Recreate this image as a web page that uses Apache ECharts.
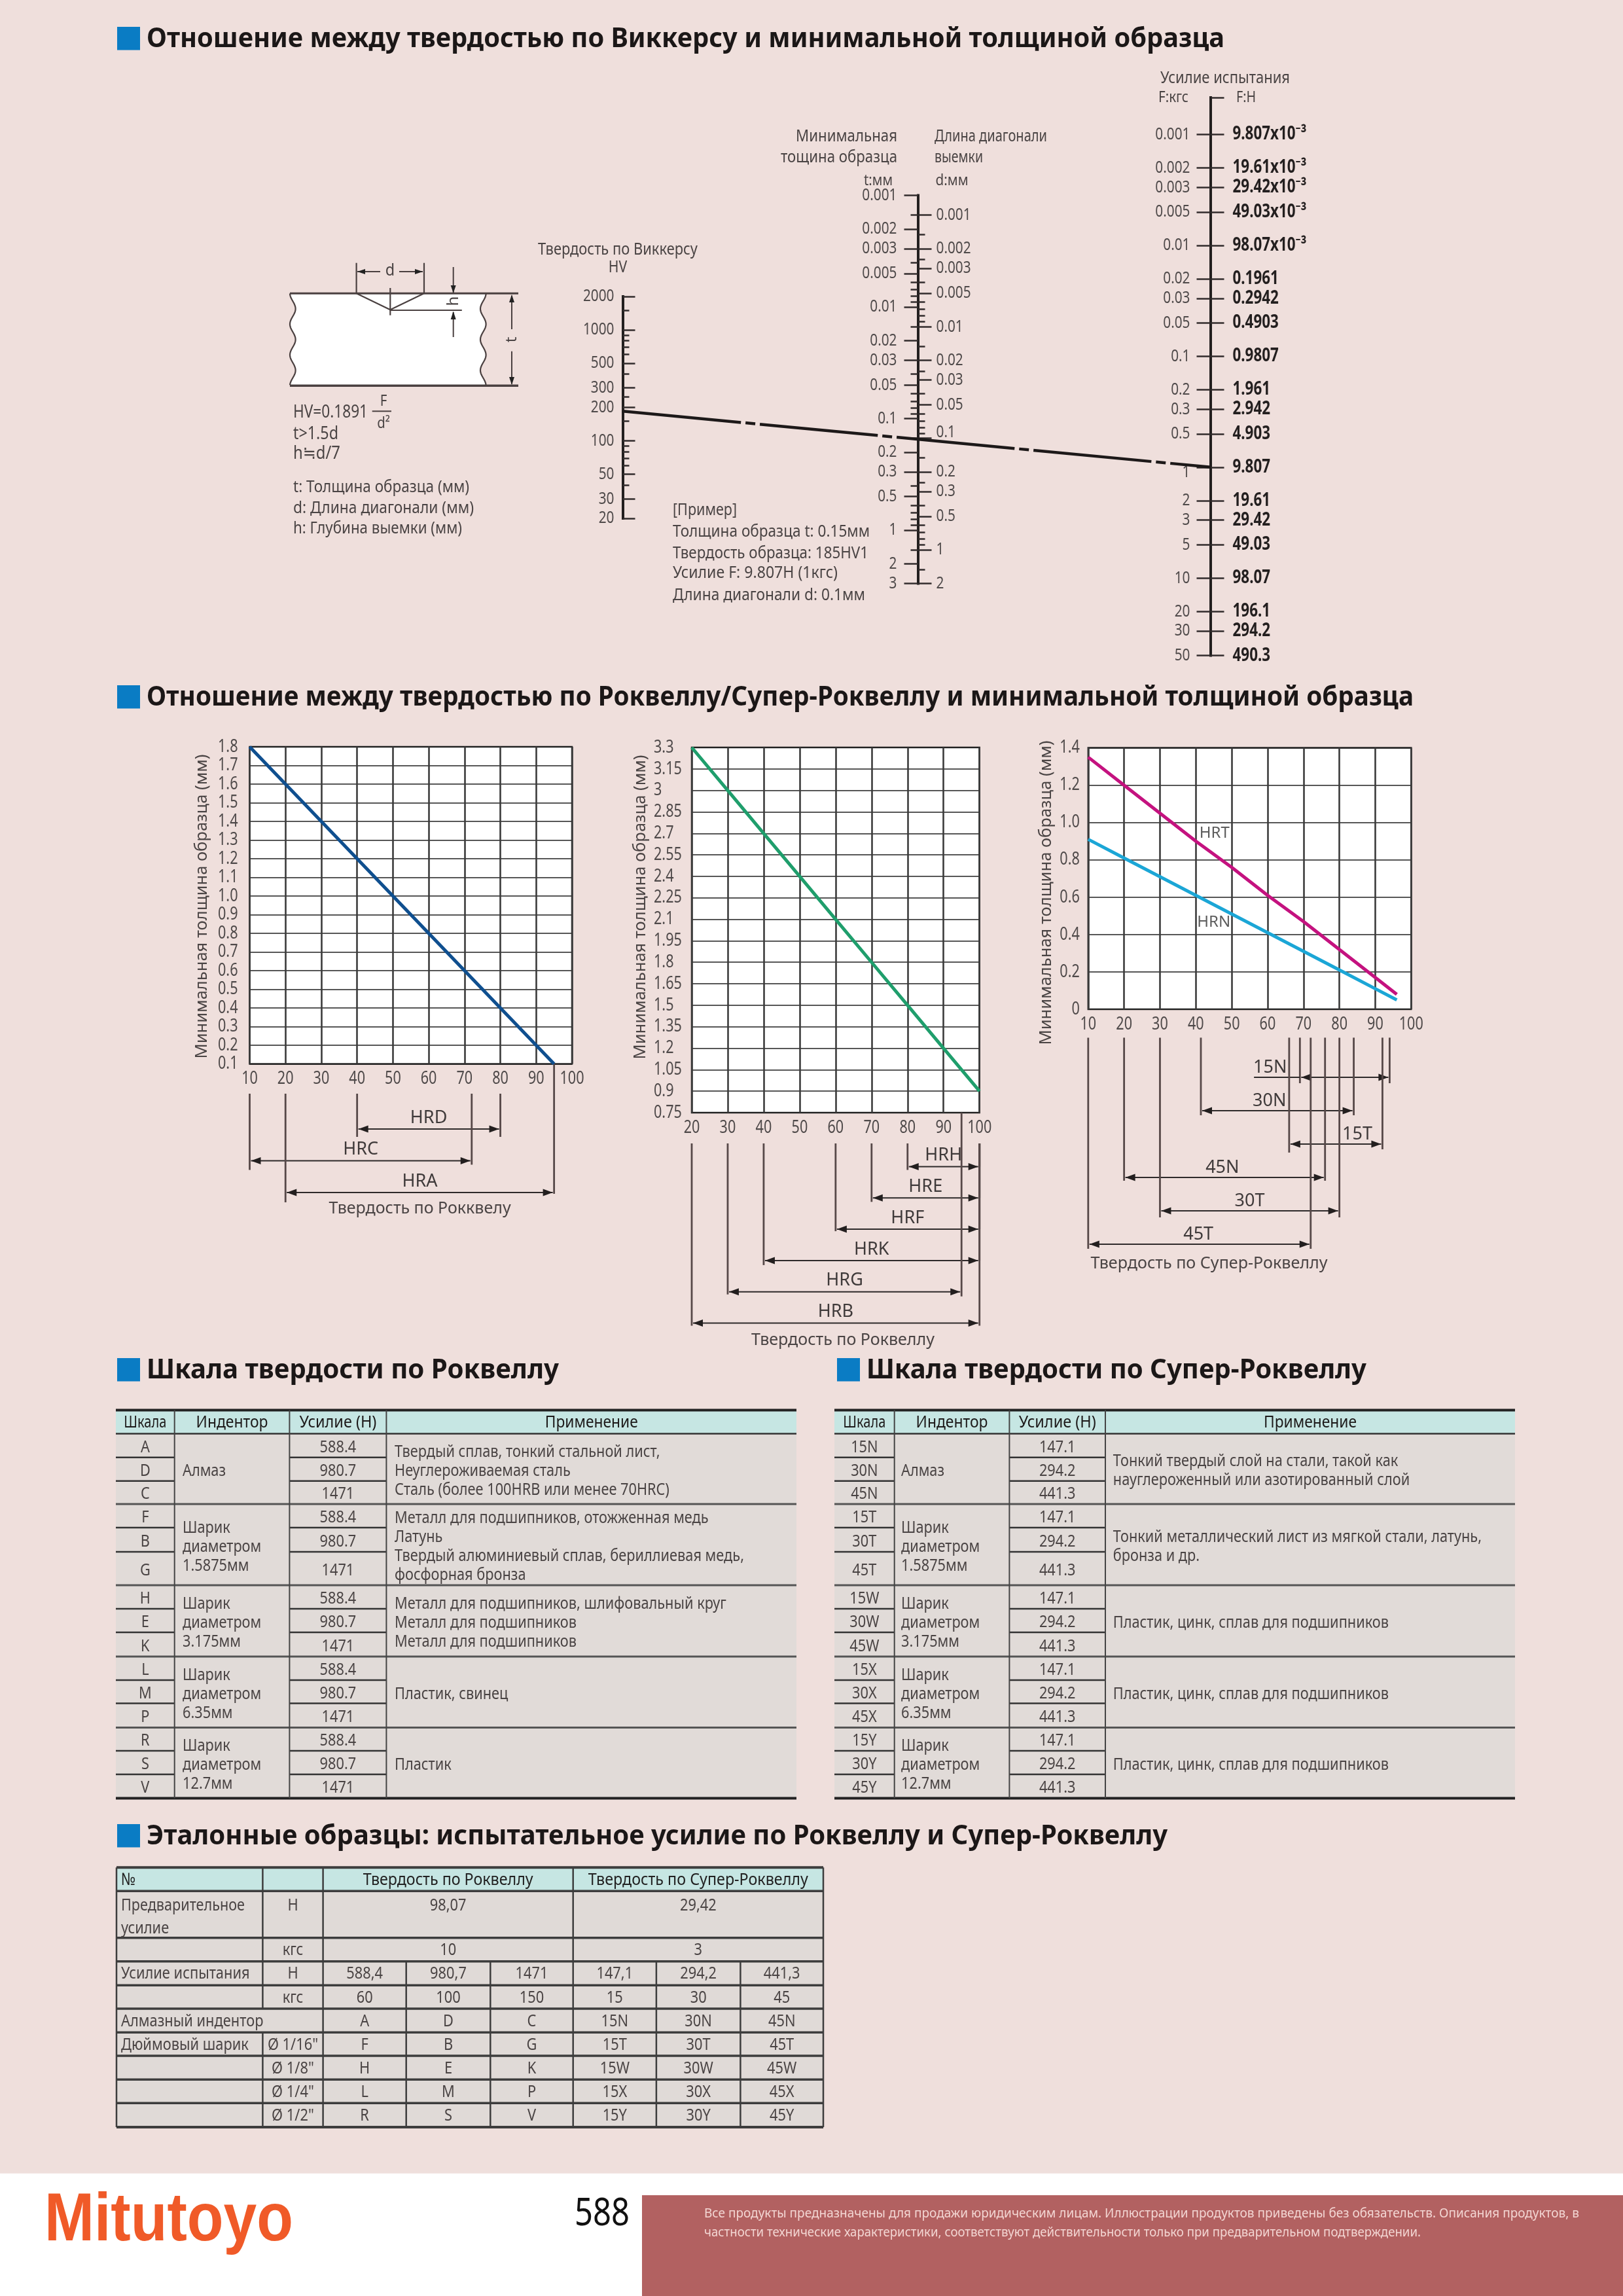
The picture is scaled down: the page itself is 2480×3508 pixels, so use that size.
<!DOCTYPE html>
<html><head><meta charset="utf-8">
<style>html,body{margin:0;padding:0;background:#efdfdc}#c{width:2480px;height:3508px}</style>
<script src="https://cdn.jsdelivr.net/npm/echarts@6/dist/echarts.min.js"></script>
</head><body><div id="c"></div>
<script>
// ---------- data ----------
const hvMajor=[2000,1000,500,300,200,100,50,30,20];
const hvMinor=[1500,900,800,700,600,400,250,150,90,80,70,60,40];
const tMajor=[0.001,0.002,0.003,0.005,0.01,0.02,0.03,0.05,0.1,0.2,0.3,0.5,1,2,3];
const tMinor=[0.0015,0.004,0.006,0.007,0.008,0.009,0.015,0.04,0.06,0.07,0.08,0.09,0.15,0.4,0.6,0.7,0.8,0.9,1.5];
const dMajor=[0.001,0.002,0.003,0.005,0.01,0.02,0.03,0.05,0.1,0.2,0.3,0.5,1,2];
const dMinor=[0.0015,0.0025,0.004,0.006,0.007,0.008,0.009,0.015,0.025,0.04,0.06,0.07,0.08,0.09,0.15,0.25,0.4,0.6,0.7,0.8,0.9,1.5];
const forceKgf=[0.001,0.002,0.003,0.005,0.01,0.02,0.03,0.05,0.1,0.2,0.3,0.5,1,2,3,5,10,20,30,50];
const forceN=['9.807x10⁻³','19.61x10⁻³','29.42x10⁻³','49.03x10⁻³','98.07x10⁻³','0.1961','0.2942','0.4903','0.9807','1.961','2.942','4.903','9.807','19.61','29.42','49.03','98.07','196.1','294.2','490.3'];
const exampleHV=185, exampleF=1;

const hraHardness=[10,20,30,40,50,60,70,80,90,95];
const hraThickness=[1.8,1.6,1.4,1.2,1.0,0.8,0.6,0.4,0.2,0.1];
const hrbHardness=[20,30,40,50,60,70,80,90,100];
const hrbThickness=[3.3,3.0,2.7,2.4,2.1,1.8,1.5,1.2,0.9];
const superHardness=[10,20,30,40,50,60,70,80,90,96];
const hrtThickness=[1.35,1.2,1.05,0.9,0.76,0.61,0.47,0.32,0.17,0.08];
const hrnThickness=[0.91,0.81,0.71,0.61,0.51,0.41,0.31,0.21,0.11,0.05];
const xTicks1=[10,20,30,40,50,60,70,80,90,100];
const xTicks2=[20,30,40,50,60,70,80,90,100];
const yTicks1=['0.1','0.2','0.3','0.4','0.5','0.6','0.7','0.8','0.9','1.0','1.1','1.2','1.3','1.4','1.5','1.6','1.7','1.8'];
const yTicks2=['0.75','0.9','1.05','1.2','1.35','1.5','1.65','1.8','1.95','2.1','2.25','2.4','2.55','2.7','2.85','3','3.15','3.3'];
const yTicks3=['0','0.2','0.4','0.6','0.8','1.0','1.2','1.4'];

const ranges1=[['HRD',40,80],['HRC',10,72],['HRA',20,95]];
const ranges2=[['HRH',80,100],['HRE',70,100],['HRF',60,100],['HRK',40,100],['HRG',30,95],['HRB',20,100]];
const ranges3=[['15N',69,94,60.7],['30N',41.4,84,60.5],['15T',66,92,85],['45N',20,76,47.4],['30T',30,80,55],['45T',10,72,40.7]];

const rwForces=['588.4','980.7','1471'];
const srForces=['147.1','294.2','441.3'];
const rwScales=['A','D','C','F','B','G','H','E','K','L','M','P','R','S','V'];
const srScales=['15N','30N','45N','15T','30T','45T','15W','30W','45W','15X','30X','45X','15Y','30Y','45Y'];
const indentors=[['Алмаз'],['Шарик','диаметром','1.5875мм'],['Шарик','диаметром','3.175мм'],['Шарик','диаметром','6.35мм'],['Шарик','диаметром','12.7мм']];
const rwUse=[['Твердый сплав, тонкий стальной лист,','Неуглероживаемая сталь','Сталь (более 100HRB или менее 70HRC)'],
 ['Металл для подшипников, отожженная медь','Латунь','Твердый алюминиевый сплав, бериллиевая медь,','фосфорная бронза'],
 ['Металл для подшипников, шлифовальный круг','Металл для подшипников','Металл для подшипников'],
 ['Пластик, свинец'],['Пластик']];
const srUse=[['Тонкий твердый слой на стали, такой как','науглероженный или азотированный слой'],
 ['Тонкий металлический лист из мягкой стали, латунь,','бронза и др.'],
 ['Пластик, цинк, сплав для подшипников'],['Пластик, цинк, сплав для подшипников'],['Пластик, цинк, сплав для подшипников']];
const tableHead=['Шкала','Индентор','Усилие (Н)','Применение'];
const refRows=[
 ['Усилие испытания','Н','588,4','980,7','1471','147,1','294,2','441,3'],
 ['','кгс','60','100','150','15','30','45'],
 ['Алмазный индентор','','A','D','C','15N','30N','45N'],
 ['Дюймовый шарик','Ø 1/16"','F','B','G','15T','30T','45T'],
 ['','Ø 1/8"','H','E','K','15W','30W','45W'],
 ['','Ø 1/4"','L','M','P','15X','30X','45X'],
 ['','Ø 1/2"','R','S','V','15Y','30Y','45Y']];

// ---------- helpers ----------
const NOTO='"Noto Sans","DejaVu Sans",sans-serif';
const TXT='#4a4444';
const ctx=document.createElement('canvas').getContext('2d');
const G=[];
function T(text,x,y,o){o=o||{};
  const font=(o.b?'bold ':'')+(o.s||24)+'px '+(o.f||NOTO);
  let sx=o.sx||1;
  if(o.w){ctx.font=font;sx=o.w/ctx.measureText(text).width;}
  const el={type:'text',x:x,y:y,scaleX:sx,scaleY:o.sy||1,rotation:o.r||0,silent:true,z:o.z||5,
    style:{text:text,font:font,fill:o.c||TXT,align:o.a||'left',verticalAlign:'middle',textAlign:o.a||'left',textVerticalAlign:'middle'}};
  G.push(el);return el;}
function L(x1,y1,x2,y2,c,w,z){G.push({type:'line',silent:true,z:z||4,shape:{x1,y1,x2,y2},style:{stroke:c||'#444',lineWidth:w||2}});}
function R(x,y,w,h,c,z){G.push({type:'rect',silent:true,z:z||1,shape:{x,y,width:w,height:h},style:{fill:c}});}
function P(pts,c,z){G.push({type:'polygon',silent:true,z:z||4,shape:{points:pts},style:{fill:c}});}
function PL(pts,c,w,z){G.push({type:'polyline',silent:true,z:z||4,shape:{points:pts},style:{stroke:c,lineWidth:w,fill:'none'}});}
const lg=v=>Math.log10(v);

// ---------- section titles ----------
function head(text,x,y,w){R(x-45,y-18,35,35.5,'#0a7cc4');T(text,x,y+1,{s:42,b:1,c:'#1b1717',w:w});}
head('Отношение между твердостью по Виккерсу и минимальной толщиной образца',224,59,1647);
head('Отношение между твердостью по Роквеллу/Супер-Роквеллу и минимальной толщиной образца',224,1065,1936);
head('Шкала твердости по Роквеллу',224,2093,630);
head('Шкала твердости по Супер-Роквеллу',1324,2093,764);
head('Эталонные образцы: испытательное усилие по Роквеллу и Супер-Роквеллу',224,2805,1560);

// ---------- indentation diagram ----------
(function(){
 const top=448.3,bot=589.3,per=47;const lp=[],rp=[];
 for(let y=top;y<=bot+0.1;y+=2){
   lp.push([447.3-4.3*Math.cos(2*Math.PI*(y-top)/per),y]);
   rp.push([738.3+4.3*Math.cos(2*Math.PI*(y-top)/per),y]);
 }
 P(lp.concat(rp.slice().reverse()),'#ffffff',1);
 const c='#4a4040';
 PL(lp,c,2.2);PL(rp,c,2.2);
 L(443,top,792,top,c,3);L(443,bot,792,bot,c,3.5);
 PL([[544.6,top],[596.3,473.3],[648,top]],c,2.2);
 L(544.6,401.7,544.6,top,c,2.2);L(648,401.7,648,top,c,2.2);
 L(596.3,440,596.3,481.7,c,2.2);L(596.3,474,705.8,474,c,2.2);
 L(546,415,581,415,c,2);L(610,415,646,415,c,2);
 P([[546,415],[558,411],[558,419]],'#222');P([[646,415],[634,411],[634,419]],'#222');
 T('d',596,414,{a:'center',s:26,sx:.9});
 L(692.7,408,692.7,447,c,2);P([[692.7,447.7],[688.7,436],[696.7,436]],'#222');
 L(692.7,477,692.7,515,c,2);P([[692.7,475.5],[688.7,488],[696.7,488]],'#222');
 T('h',692.7,460,{a:'center',s:24,r:Math.PI/2});
 L(782,451.7,782,503,c,2);L(782,536.7,782,586.7,c,2);
 P([[782,450],[778,462],[786,462]],'#222');P([[782,588],[778,576],[786,576]],'#222');
 T('t',782,519,{a:'center',s:24,r:Math.PI/2});
 T('HV=0.1891',448,630,{s:27,w:114});
 T('F',586,613,{a:'center',s:24,sx:.85});L(568.7,628.3,598,628.3,c,2);T('d²',586,646.7,{a:'center',s:24,sx:.85});
 T('t>1.5d',448,663,{s:27,w:69});T('h≒d/7',448,693,{s:27,w:72});
 T('t: Толщина образца (мм)',448,745,{s:25,w:269});
 T('d: Длина диагонали (мм)',448,776.7,{s:25,w:276});
 T('h: Глубина выемки (мм)',448,808,{s:25,w:258});
})();

// ---------- nomogram captions ----------
T('Твердость по Виккерсу',944,381.7,{a:'center',s:25,w:244});
T('HV',944,408.5,{a:'center',s:25,sx:.85});
T('Минимальная',1371,208.6,{a:'right',s:25,w:155});
T('тощина образца',1371,241,{a:'right',s:25,w:178});
T('t:мм',1364,276,{a:'right',s:24,w:44});
T('Длина диагонали',1428,208.6,{s:25,w:172});
T('выемки',1428,241,{s:25,w:74});
T('d:мм',1429.5,276,{s:24,w:50});
T('Усилие испытания',1773,120,{s:25,w:198});
T('F:кгс',1770,149,{s:24,w:46});
T('F:Н',1889,149,{s:24,w:30});
T('[Пример]',1028,780,{s:25,w:98});
T('Толщина образца t: 0.15мм',1028,813,{s:25,w:301});
T('Твердость образца: 185HV1',1028,845.5,{s:25,w:299});
T('Усилие F: 9.807Н (1кгс)',1028,876,{s:25,w:252});
T('Длина диагонали d: 0.1мм',1028,910,{s:25,w:294});

// rotated y-axis titles and chart captions
const yTitle='Минимальная толщина образца (мм)';
T(yTitle,309,1385,{a:'center',s:26,w:465,r:Math.PI/2});
T(yTitle,978.4,1386,{a:'center',s:26,w:465,r:Math.PI/2});
T(yTitle,1598.5,1364,{a:'center',s:26,w:465,r:Math.PI/2});
T('Твердость по Рокквелу',641.6,1847,{a:'center',s:25,w:278});
T('Твердость по Роквеллу',1288,2048,{a:'center',s:25,w:280});
T('Твердость по Супер-Роквеллу',1847.5,1930.5,{a:'center',s:25,w:362});

// ---------- scale tables ----------
const tblY=[2190.4,2226.7,2262.7,2298,2334,2371,2422,2458,2494,2531,2567,2602.6,2639.4,2675,2711,2747.5];
const headW=[65,110,118,142];
function scaleTable(X,scales,forces,uses){
 const [x0,x1,x2,x3,x4,ax,ix]=X;const sz=25,S=.87;
 R(x0,2154.5,x4-x0,36,'#c6e6e3');R(x0,2190.4,x4-x0,2747.5-2190.4,'#e1dbd8');
 [[x0,x1],[x1,x2],[x2,x3],[x3,x4]].forEach((p,i)=>T(tableHead[i],(p[0]+p[1])/2,2174,{a:'center',s:sz,w:headW[i],c:'#1d1a1a'}));
 L(x0,2154.5,x4,2154.5,'#222',4);L(x0,2190.4,x4,2190.4,'#333',2.5);
 for(let i=0;i<15;i++){
  const yc=(tblY[i]+tblY[i+1])/2+3;
  T(scales[i],(x0+x1)/2,yc,{a:'center',s:sz,sx:S});
  T(forces[i%3],(x2+x3)/2,yc,{a:'center',s:sz,sx:S});
  const e=tblY[i+1];
  if((i+1)%3===0&&i<14){L(x0,e,x4,e,'#555',3);}
  else if(i<14){L(x0,e,x1,e,'#333',2.5);L(x2,e,x3,e,'#333',2.5);}
 }
 L(x0,2747.5,x4,2747.5,'#222',4);
 [x1,x2,x3].forEach(x=>L(x,2154.5,x,2747.5,'#444',2));
 for(let g=0;g<5;g++){
  const yc=(tblY[g*3]+tblY[g*3+3])/2+3.5;
  indentors[g].forEach((s,k)=>T(s,ix,yc+(k-(indentors[g].length-1)/2)*29,{s:sz,sx:S}));
  uses[g].forEach((s,k)=>T(s,ax,yc+(k-(uses[g].length-1)/2)*29,{s:sz,sx:S}));
 }
}
scaleTable([177,266.7,442.4,590.4,1217,603,279],rwScales,rwForces,rwUse);
scaleTable([1275,1366.7,1542.4,1689,2315,1700.8,1377],srScales,srForces,srUse);

// ---------- reference table ----------
(function(){
 const X=[178,401.4,493.6,620.7,749.3,875.7,1002.9,1131.4,1258];
 const Y=[2853.3,2889.3,2960.7,2996.7,3033.3,3069,3105.3,3141,3177.3,3213.3,3250];
 const sz=26,S=.84,line='#3d3d3d';
 R(X[0],Y[0],X[8]-X[0],Y[1]-Y[0],'#c6e6e3');R(X[0],Y[1],X[8]-X[0],Y[10]-Y[1],'#e0dad7');
 const yc=i=>(Y[i]+Y[i+1])/2+1;const xc=i=>(X[i]+X[i+1])/2;
 T('№',185,yc(0),{s:sz,sx:S,c:'#222'});
 T('Твердость по Роквеллу',(X[2]+X[5])/2,yc(0),{a:'center',s:sz,w:260,c:'#222'});
 T('Твердость по Супер-Роквеллу',(X[5]+X[8])/2,yc(0),{a:'center',s:sz,w:336,c:'#222'});
 T('Предварительное',185,2911.7,{s:sz,w:189});T('усилие',185,2946.7,{s:sz,sx:S});
 T('Н',xc(1),2911.7,{a:'center',s:sz,sx:S});
 T('98,07',(X[2]+X[5])/2,2911.7,{a:'center',s:sz,sx:S});
 T('29,42',(X[5]+X[8])/2,2911.7,{a:'center',s:sz,sx:S});
 T('кгс',xc(1),yc(2),{a:'center',s:sz,sx:S});
 T('10',(X[2]+X[5])/2,yc(2),{a:'center',s:sz,sx:S});
 T('3',(X[5]+X[8])/2,yc(2),{a:'center',s:sz,sx:S});
 refRows.forEach((r,i)=>{const row=i+3;
  if(r[0])T(r[0],185,yc(row),{s:sz,sx:S});
  if(r[1])T(r[1],xc(1),yc(row),{a:'center',s:sz,sx:S});
  for(let k=2;k<8;k++)T(r[k],xc(k),yc(row),{a:'center',s:sz,sx:S});
 });
 Y.forEach((y,i)=>L(X[0],y,X[8],y,line,(i===0||i===10)?4:3.5));
 L(X[0],Y[0],X[0],Y[10],line,2.5);L(X[8],Y[0],X[8],Y[10],line,2.5);
 L(X[1],Y[0],X[1],Y[5],line,2.5);L(X[1],Y[6],X[1],Y[10],line,2.5);
 L(X[2],Y[0],X[2],Y[10],line,2.5);L(X[5],Y[0],X[5],Y[10],line,2.5);
 [3,4,6,7].forEach(k=>L(X[k],Y[3],X[k],Y[10],line,2.5));
})();

// ---------- footer ----------
R(0,3320.7,2480,187.3,'#ffffff');
R(981,3354,1499,154,'#b26161');
T('Mitutoyo',68,3394,{s:104,b:1,f:'"Liberation Sans",sans-serif',c:'#f05a28',w:380});
T('588',878,3383,{s:58,w:84,c:'#111'});
T('Все продукты предназначены для продажи юридическим лицам. Иллюстрации продуктов приведены без обязательств. Описания продуктов, в',1076,3382.7,{s:20,w:1337,c:'#f3d6d3'});
T('частности технические характеристики, соответствуют действительности только при предварительном подтверждении.',1076,3411.7,{s:20,w:1095,c:'#f3d6d3'});

// ---------- option building ----------
const grids=[],xAxes=[],yAxes=[],series=[];
// tick labels drawn through the axis scale so that they can be condensed like the reference type
function tickText(xi,yi,axis,vals,texts,other,o){
 series.push({type:'custom',xAxisIndex:xi,yAxisIndex:yi,silent:true,clip:false,z:8,encode:{x:0,y:1},
  data:vals.map(v=>axis==='x'?[v,other]:[other,v]),
  renderItem(p,api){
   const c=api.coord([api.value(0),api.value(1)]),i=p.dataIndex,tw=o.tweak&&o.tweak[texts[i]]||0;
   return {type:'text',x:c[0]+(o.dx||0),y:c[1]+(o.dy||0)+tw,scaleX:o.sx||.8,
    style:{text:texts[i],fill:o.c||'#4f4a4a',font:(o.b?'bold ':'')+(o.s||26)+'px '+NOTO,align:o.a,verticalAlign:'middle',textAlign:o.a,textVerticalAlign:'middle'}};
  }});
}
function plotGrid(left,right,top,bottom,xMin,xMax,yMin,yMax,yInt,xT,yT,yOpt){
 const gi=grids.length;
 grids.push({left,top,width:right-left,height:bottom-top,show:true,backgroundColor:'#fff',borderColor:'#2b2b2b',borderWidth:2.5});
 xAxes.push({gridIndex:gi,type:'value',min:xMin,max:xMax,interval:10,
   axisLine:{show:false},axisTick:{show:false},axisLabel:{show:false},
   splitLine:{show:true,lineStyle:{color:'#3b3b3b',width:2.6}}});
 yAxes.push({gridIndex:gi,type:'value',min:yMin,max:yMax,interval:yInt,
   axisLine:{show:false},axisTick:{show:false},axisLabel:{show:false},
   splitLine:{show:true,lineStyle:{color:'#1f1f1f',width:1.6}}});
 tickText(gi,gi,'x',xT,xT.map(String),yMin,{a:'center',dy:23,s:27});
 tickText(gi,gi,'y',yT.map(Number),yT,xMin,Object.assign({s:27},yOpt));
 return gi;
}
const zip=(a,b)=>a.map((v,i)=>[v,b[i]]);
function plotLine(gi,xs,ys,color,name){series.push({type:'line',name,xAxisIndex:gi,yAxisIndex:gi,data:zip(xs,ys),showSymbol:false,symbol:'none',lineStyle:{color,width:5},z:6,silent:true});}

const g1=plotGrid(381.5,874,1141,1625.5,10,100,0.1,1.8,0.1,xTicks1,yTicks1,{a:'right',dx:-18});
const g2=plotGrid(1057,1496.7,1142,1700,20,100,0.75,3.3,0.15,xTicks2,yTicks2,{a:'left',dx:-58});
const g3=plotGrid(1662.8,2156.3,1142.6,1542,10,100,0,1.4,0.2,xTicks1,yTicks3,{a:'right',dx:-13});
plotLine(g1,hraHardness,hraThickness,'#0f4f8f','HRA');
plotLine(g2,hrbHardness,hrbThickness,'#1f9e6c','HRB');
plotLine(g3,superHardness,hrtThickness,'#c4127f','HRT');
plotLine(g3,superHardness,hrnThickness,'#1ba6d6','HRN');
series.push({type:'scatter',xAxisIndex:g3,yAxisIndex:g3,symbolSize:0,z:7,silent:true,
  data:[{value:[45.2,0.944],name:'HRT'},{value:[45,0.464],name:'HRN'}],
  label:{show:true,position:'inside',formatter:'{b}',fontFamily:NOTO,fontSize:24,color:'#333'}});

// range brackets: one hidden grid per chart, rows on the y axis
function rangeGrid(plot,rows,rowTop,rowStep,topPx,ext,opts){
 const gi=grids.length,p=grids[plot],n=rows.length;
 grids.push({left:p.left,top:rowTop,width:p.width,height:rowStep*(n-1)});
 xAxes.push({gridIndex:gi,type:'value',min:xAxes[plot].min,max:xAxes[plot].max,show:false});
 yAxes.push({gridIndex:gi,type:'value',min:0,max:n-1,inverse:true,show:false});
 series.push({type:'custom',xAxisIndex:gi,yAxisIndex:gi,silent:true,clip:false,z:6,
  encode:{x:[0,1],y:2},
  data:rows.map((r,i)=>[r[1],r[2],i,r[3]===undefined?(r[1]+r[2])/2:r[3]]),
  renderItem(params,api){
   const i=params.dataIndex,[xa,y]=api.coord([api.value(0),i]),[xb]=api.coord([api.value(1),i]),
         [xl]=api.coord([api.value(3),i]);
   const c='#564848',e=ext[i],rightTop=(opts.full&&opts.full.includes(i))?p.top+p.height:topPx;
   const ln=(x1,y1,x2,y2,w,col)=>({type:'line',shape:{x1,y1,x2,y2},style:{stroke:col||c,lineWidth:w}});
   const ar=(x,d)=>({type:'polygon',shape:{points:[[x,y],[x+d*15,y-5.5],[x+d*15,y+5.5]]},style:{fill:'#231f1f'}});
   const kids=[ln(xa,topPx,xa,y+e[0],2.8),ln(xb,rightTop,xb,y+e[1],2.8),
     ln(xa+2,y,xb-2,y,2,'#2e2a2a'),ar(xa+2,1),ar(xb-2,-1),
     {type:'text',x:xl,y:y-opts.lift,style:{text:rows[i][0],fill:'#3f3a3a',font:'27px '+NOTO,align:'center',verticalAlign:'middle',textAlign:'center',textVerticalAlign:'middle'}}];
   if(opts.leader&&opts.leader[i]!==undefined){const [lx]=api.coord([opts.leader[i],i]);kids.push(ln(lx,y,xa,y,2,'#2e2a2a'));}
   return {type:'group',children:kids};
  }});
}
rangeGrid(g1,ranges1,1725,48.5,1671,[[12,12],[14,6],[15,2]],{full:[2],lift:17});
rangeGrid(g2,ranges2,1782.5,47.8,1747,[[5,0],[6,0],[3,0],[7,0],[4,7],[4,4]],{full:[4],lift:17});
rangeGrid(g3,ranges3,1646,51,1585.4,[[9,9],[7,7],[13,8],[5,5],[10,10],[7,7]],{lift:15,leader:{0:56.2}});

// nomogram scales (log10 of each quantity on a linear value axis)
function nomoGrid(x,top,bottom){
 const gi=grids.length;
 grids.push({left:x-0.5,top,width:1,height:bottom-top});
 xAxes.push({gridIndex:gi,type:'value',min:0,max:1,show:false});
 return gi;
}
function nomoAxis(gi,pos,a,b,vals,texts,o){
 const custom=vals.map(lg),idx=yAxes.length;
 yAxes.push({gridIndex:gi,type:'value',position:pos,inverse:!o.up,min:lg(a),max:lg(b),offset:0,
  axisLine:{show:!!o.line,onZero:false,lineStyle:{color:'#231f1f',width:4,cap:'square'}},
  axisTick:{show:true,inside:!!o.inside,length:o.len,customValues:custom,lineStyle:{color:'#332d2d',width:2.5}},
  splitLine:{show:false},minorTick:{show:false},axisLabel:{show:false}});
 if(texts)tickText(gi,idx,'y',custom,texts,0,o.label);
 return idx;
}
const str=a=>a.map(String);
const gHV=nomoGrid(952,453,792);
const hvAxis=nomoAxis(gHV,'left',20,2000,hvMajor,str(hvMajor),{up:1,line:1,inside:1,len:19,label:{a:'right',dx:-13}});
nomoAxis(gHV,'left',20,2000,hvMinor,null,{up:1,inside:1,len:10});
const gTD=nomoGrid(1403,298.6,891.4);
nomoAxis(gTD,'left',0.001,3,tMajor,str(tMajor),{line:1,len:21,label:{a:'right',dx:-32}});
nomoAxis(gTD,'left',0.001,3,tMinor,null,{len:11});
nomoAxis(gTD,'right',0.001/1.5,2,dMajor,str(dMajor),{len:20,label:{a:'left',dx:28,tweak:{'0.1':-9}}});
nomoAxis(gTD,'right',0.001/1.5,2,dMinor,null,{len:10});
const gF=nomoGrid(1850,149,1001.6);
const fMin=0.000464;
const fAxis=nomoAxis(gF,'left',fMin,50,forceKgf,str(forceKgf),{line:1,len:21,label:{a:'right',dx:-31,tweak:{'1':8}}});
nomoAxis(gF,'right',fMin,50,[fMin].concat(forceKgf),[''].concat(forceN),{len:20,label:{a:'left',dx:34,b:1,s:28,c:'#231f1f'}});

const chart=echarts.init(document.getElementById('c'),null,{renderer:'canvas',width:2480,height:3508});
chart.setOption({animation:false,backgroundColor:'#efdfdc',grid:grids,xAxis:xAxes,yAxis:yAxes,series,graphic:{elements:G}});

// example line across the nomogram, through the HV and force scales
const p1=chart.convertToPixel({yAxisIndex:hvAxis},lg(exampleHV));
const p2=chart.convertToPixel({yAxisIndex:fAxis},lg(exampleF));
G.push({type:'line',silent:true,z:20,shape:{x1:952,y1:p1,x2:1850,y2:p2},style:{stroke:'#1d1919',lineWidth:4.5,lineDash:[181,7,15,7]}});
chart.setOption({graphic:{elements:G}},{replaceMerge:['graphic']});
</script></body></html>
